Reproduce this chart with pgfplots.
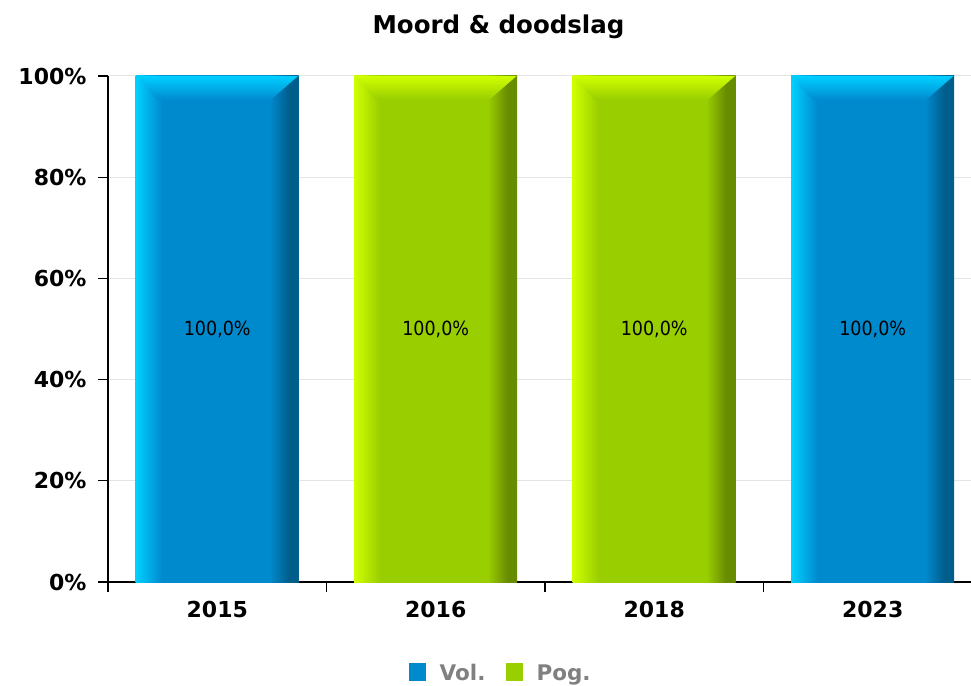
\documentclass[border=0pt]{standalone}
\usepackage{pgfplots}
\pgfplotsset{compat=1.18}
\usepackage{fontspec}
\setmainfont{DejaVu Sans}
\newfontfamily\condfont{DejaVu Sans Condensed}
\definecolor{bL}{RGB}{0,208,255}
\definecolor{bM}{RGB}{0,138,206}
\definecolor{bD}{RGB}{0,94,140}
\definecolor{gL}{RGB}{208,255,0}
\definecolor{gM}{RGB}{153,206,0}
\definecolor{gD}{RGB}{104,140,0}
\definecolor{gridc}{RGB}{228,228,228}
\definecolor{legc}{RGB}{128,128,128}
\pgfdeclarehorizontalshading{blueshade}{100bp}{color(0bp)=(bL); color(25bp)=(bL); color(33bp)=(bM); color(66bp)=(bM); color(72bp)=(bD); color(75bp)=(bD); color(100bp)=(bD)}
\pgfdeclarehorizontalshading{greenshade}{100bp}{color(0bp)=(gL); color(25bp)=(gL); color(33bp)=(gM); color(66bp)=(gM); color(72bp)=(gD); color(75bp)=(gD); color(100bp)=(gD)}
\newcommand\legsquare[1]{\pgfsetfillcolor{#1}\pgfpathrectangle{\pgfpoint{0pt}{-8pt}}{\pgfpoint{17pt}{18pt}}\pgfusepath{fill}\path (17pt,0pt) -- (29pt,0pt);}
\pgfplotsset{
  volbar/.style={ybar, bar width=0.746, bar shift=0pt, draw=none, shade, shading=blueshade,
    legend image code/.code={\legsquare{bM}}},
  pogbar/.style={ybar, bar width=0.746, bar shift=0pt, draw=none, shade, shading=greenshade,
    legend image code/.code={\legsquare{gM}}},
}
\begin{document}
\begin{tikzpicture}
\begin{axis}[
  scale only axis, width=863pt, height=506pt,
  xmin=-0.5, xmax=3.45, ymin=0, ymax=100,
  axis lines=left, axis line style={-, line width=1.5pt, black},
  tick align=outside, major tick length=10pt,
  tick style={black, line width=1.2pt},
  xtick={-0.5,0.5,1.5,2.5}, xticklabels={},
  extra x ticks={0,1,2,3}, extra x tick labels={2015,2016,2018,2023},
  extra x tick style={tick style={draw=none}, tick label style={yshift=-6pt}},
  ytick={0,20,40,60,80,100},
  yticklabels={0\%,20\%,40\%,60\%,80\%,100\%},
  yticklabel style={xshift=-8pt},
  ymajorgrids, grid style={gridc, line width=1pt},
  tick label style={font=\bfseries\fontsize{22}{22}\selectfont},
  legend columns=2,
  legend style={draw=none, fill=none, at={(0.455,-0.180)}, anchor=center,
    font=\bfseries\fontsize{21.5}{21.5}\selectfont, text=legc,
    /tikz/every even column/.append style={column sep=18pt}},
  clip=false,
]
\coordinate (O) at (rel axis cs:0,0);
\addplot[volbar] coordinates {(0,100)};
\addlegendentry{Vol.}
\addplot[pogbar] coordinates {(1,100)};
\addlegendentry{Pog.}
\addplot[pogbar, forget plot] coordinates {(2,100)};
\addplot[volbar, forget plot] coordinates {(3,100)};
% top bevel caps
\addplot[forget plot, draw=none, top color=bL, bottom color=bM] coordinates {(-0.370,100) (0.370,100) (0.245,95.3) (-0.273,95.3)};
\addplot[forget plot, draw=none, top color=gL, bottom color=gM] coordinates {(0.630,100) (1.370,100) (1.245,95.3) (0.727,95.3)};
\addplot[forget plot, draw=none, top color=gL, bottom color=gM] coordinates {(1.630,100) (2.370,100) (2.245,95.3) (1.727,95.3)};
\addplot[forget plot, draw=none, top color=bL, bottom color=bM] coordinates {(2.630,100) (3.370,100) (3.245,95.3) (2.727,95.3)};
% value labels
\addplot[forget plot, only marks, mark=none, nodes near coords, point meta=explicit symbolic,
  nodes near coords style={font=\condfont\fontsize{19.5}{19.5}\selectfont, anchor=center, black}]
  coordinates {(0,50) [100,0\%] (1,50) [100,0\%] (2,50) [100,0\%] (3,50) [100,0\%]};
\end{axis}
\node[anchor=base, font=\bfseries\fontsize{24.5}{24.5}\selectfont] at ([xshift=390.5pt,yshift=548pt]O) {Moord \& doodslag};
\pgfresetboundingbox
\useasboundingbox (O) ++(-108pt,-103pt) rectangle ++(971pt,685pt);
\end{tikzpicture}
\end{document}
